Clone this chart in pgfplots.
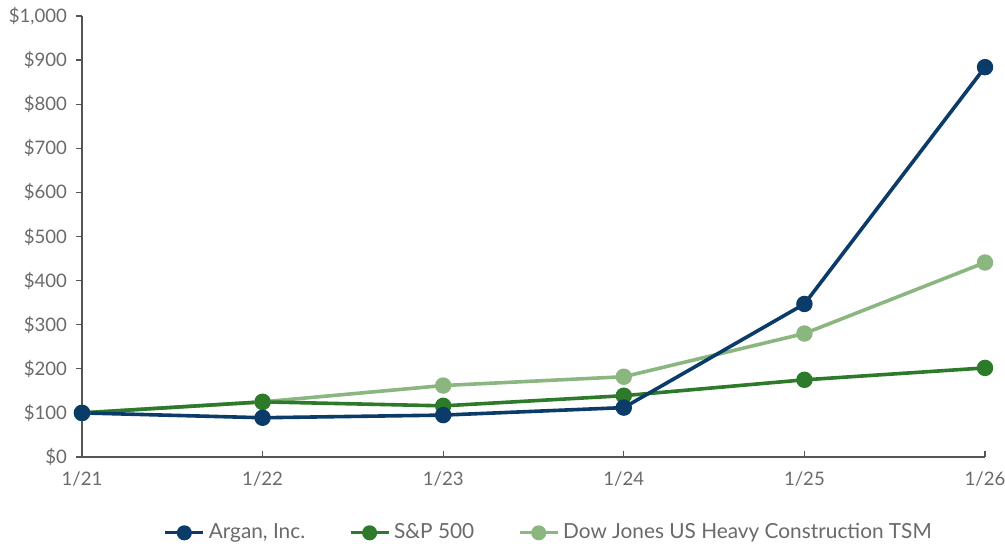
\documentclass[border=0pt]{standalone}
\usepackage{pgfplots}
\pgfplotsset{compat=1.18}
\usepackage{fontspec}
\setmainfont{Lato}
\definecolor{navy}{HTML}{0B3B69}
\definecolor{dgreen}{HTML}{2C7A2A}
\definecolor{lgreen}{HTML}{8CB680}
\definecolor{txt}{HTML}{6A6A6A}
\definecolor{axc}{HTML}{555555}
\begin{document}
\begin{tikzpicture}
\useasboundingbox (-41pt,-43.5pt) rectangle (461.5pt,228.5pt);
\begin{axis}[
  scale only axis,
  width=451.5pt, height=220.5pt,
  xmin=0, xmax=5, ymin=0, ymax=1000,
  xtick={0,1,2,3,4,5},
  xticklabels={1/21,1/22,1/23,1/24,1/25,1/26},
  ytick={0,100,...,1000},
  yticklabels={\$0,\$100,\$200,\$300,\$400,\$500,\$600,\$700,\$800,\$900,{\$1,000}},
  axis x line*=bottom, axis y line*=left,
  axis line style={axc, line width=0.6pt, -},
  x tick style={axc, line width=0.6pt},
  y tick style={axc, line width=0.6pt},
  xtick align=inside, ytick align=outside,
  major tick length=3pt,
  tick label style={font=\fontsize{9.3}{11}\selectfont, text=txt},
  yticklabel style={xshift=-1pt},
  xticklabel style={yshift=-4pt},
  every axis plot/.append style={line width=1.8pt},
  legend image code/.code={\draw[mark repeat=2,mark phase=2] plot coordinates {(0pt,0pt) (9.5pt,0pt) (19pt,0pt)};},
  legend style={at={(0.518,-0.172)}, anchor=center, draw=none, legend columns=3,
    font=\fontsize{10.4}{12}\selectfont, text=txt,
    /tikz/every even column/.append style={column sep=20pt}},
  clip=false,
]
\addplot[lgreen, mark=*, mark size=3.2pt, forget plot] coordinates {(0,100) (1,125) (2,162) (3,182) (4,280) (5,441)};
\addplot[dgreen, mark=*, mark size=3.2pt, forget plot] coordinates {(0,100) (1,125) (2,116) (3,139) (4,175) (5,202)};
\addplot[navy, mark=*, mark size=3.2pt, forget plot] coordinates {(0,100) (1,89) (2,95) (3,112) (4,347) (5,884)};
\addlegendimage{navy, line width=1.5pt, mark=*, mark size=3pt}
\addlegendentry{Argan, Inc.}
\addlegendimage{dgreen, line width=1.5pt, mark=*, mark size=3pt}
\addlegendentry{S\&P 500}
\addlegendimage{lgreen, line width=1.5pt, mark=*, mark size=3pt}
\addlegendentry{Dow Jones US Heavy Construction TSM}
\end{axis}
\end{tikzpicture}
\end{document}
